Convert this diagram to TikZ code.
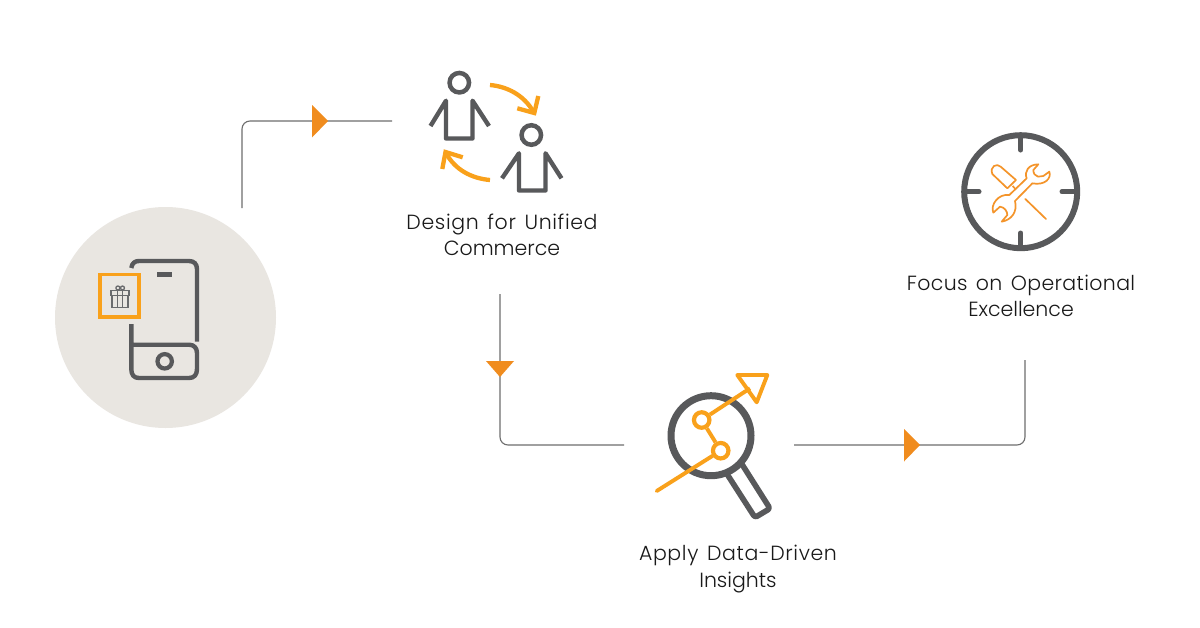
\documentclass[tikz,border=0pt]{standalone}
\usepackage{fontspec}
\setmainfont[WordSpace=1.4]{Poppins Light}
\newcommand{\widerline}[2]{{\addfontfeature{LetterSpace=#1}#2}}
\definecolor{ink}{HTML}{58595B}
\definecolor{amber}{HTML}{F9A11B}
\definecolor{tool}{HTML}{F4942A}
\definecolor{tipc}{HTML}{F08C1E}
\definecolor{disc}{HTML}{E9E6E1}
\definecolor{wire}{HTML}{6E6E6E}
\definecolor{gift}{HTML}{6A6B6D}
\tikzset{
  x=1pt,y=-1pt,
  wirel/.style={draw=wire,line width=1.1pt,rounded corners=8pt},
  tipm/.style={fill=tipc,draw=none},
  inkl/.style={draw=ink,line width=4.4pt,line join=round},
  amb/.style={draw=amber,line width=4.3pt,line join=miter},
  headn/.style={circle,draw=ink,line width=4.5pt,minimum size=19.5pt,inner sep=0pt},
  dotn/.style={circle,draw=amber,line width=4.2pt,minimum size=15.5pt,inner sep=0pt},
  captionn/.style={font=\fontsize{20.5}{26.5}\selectfont,align=center,text=black!90,inner sep=0pt}
}
\begin{document}
\begin{tikzpicture}
\useasboundingbox (0,0) rectangle (1200,627);
\fill[white] (0,0) rectangle (1200,627);
% connectors
\coordinate (a0) at (242,208);
\coordinate (a1) at (392,121);
\coordinate (b0) at (500,294);
\coordinate (b1) at (624,445);
\coordinate (c0) at (794,445);
\coordinate (c1) at (1025,360);
\draw[wirel] (a0) |- (a1);
\draw[wirel] (b0) |- (b1);
\draw[wirel] (c0) -| (c1);
\fill[tipm] (312,105) -- (328,121) -- (312,137.5) -- cycle;
\fill[tipm] (486,361) -- (514,361) -- (500,377) -- cycle;
\fill[tipm] (904,429) -- (920,445) -- (904,461.5) -- cycle;
% disc
\node[circle,fill=disc,minimum size=221pt,inner sep=0pt] (disc) at (165.5,317.5) {};
% phone
\draw[inkl,line cap=butt] (131.3,268) .. controls (132,263) and (135,261) .. (139,261) -- (189,261) .. controls (194,261) and (197,264) .. (197,269) -- (197,341.7);
\draw[inkl,line cap=butt] (131.3,324) -- (131.3,369) .. controls (131.3,375) and (134,378) .. (139,378) -- (189,378) .. controls (194,378) and (197,375) .. (197,369) -- (197,353) .. controls (197,348) and (194,344.7) .. (189,344.7) -- (131.3,344.7);
\draw[inkl] (157.3,274.5) -- (171.7,274.5);
\node[circle,draw=ink,line width=4.2pt,minimum size=14.4pt,inner sep=0pt] (homebtn) at (164.7,361.3) {};
% gift box
\node[draw=amber,line width=3.7pt,minimum width=38.6pt,minimum height=42.6pt,inner sep=0pt] (giftframe) at (119.5,295.8) {};
\begin{scope}[draw=gift,line width=1.3pt]
\draw (111.9,295.5) rectangle (128.1,307.2);
\draw (110.9,290.7) rectangle (129.1,295.5);
\draw (117.7,290.7) -- (117.7,307.2) (122.8,290.7) -- (122.8,307.2);
\draw (117.9,288) circle (2pt) (122.5,288) circle (2pt);
\end{scope}
% person 1
\node[headn] (head1) at (459.3,82.7) {};
\draw[inkl,line cap=butt] (430.5,126) -- (446,100.7) -- (446,138.5) -- (472.5,138.5) -- (472.5,100.7) -- (489,126);
% person 2
\node[headn] (head2) at (531.3,135) {};
\draw[inkl,line cap=butt] (502,178.3) -- (519,153.3) -- (519,190.5) -- (545.5,190.5) -- (545.5,153.3) -- (561.5,178.3);
% cycle arrows
\draw[amb] (490,85) .. controls (507,86.5) and (524,95) .. (533.5,112);
\draw[amb] (538.3,96) -- (534.3,113) -- (517.3,108.3);
\draw[amb] (490,180) .. controls (472,178.5) and (455,170) .. (446,153);
\draw[amb] (442.3,169) -- (445.5,152) -- (462.7,157.3);
% magnifier
\node[circle,draw=ink,line width=7pt,minimum size=80pt,inner sep=0pt] (lens) at (711,435.7) {};
\draw[inkl,line width=5.6pt,rounded corners=2.5pt] (727,474) -- (755,517.5) -- (770,508.5) -- (741.5,463.5);
% chart line
\node[dotn] (p1) at (701.7,420) {};
\node[dotn] (p2) at (720.7,450.7) {};
\coordinate (chartstart) at (656.7,491);
\coordinate (charttip) at (750,388.3);
\draw[amber,line width=3.9pt,line cap=round] (chartstart) -- (p2);
\draw[amber,line width=3.9pt] (p2) -- (p1);
\draw[amber,line width=3.9pt] (p1) -- (charttip);
\draw[amb,line width=3.9pt,line join=round] (737.3,375) -- (767.3,375) -- (756.7,402.3) -- cycle;
% target
\node[circle,draw=ink,line width=6pt,minimum size=113pt,inner sep=0pt] (dial) at (1020.7,191.7) {};
\draw[draw=ink,line width=5pt,line cap=round] (1020.7,137) -- (1020.7,150) (1020.7,233) -- (1020.7,246) (966,191.7) -- (979,191.7) (1062,191.7) -- (1075,191.7);
% tools, in the coordinates of the crop
\begin{scope}[shift={(950,125)},scale=1/3,draw=tool,line width=1.7pt,line join=round]
\draw[line cap=round] (198,165) -- (152,125) .. controls (140,113) and (118,125) .. (127,147) -- (172,190) -- (198,165);
\draw (188,183) -- (197,193);
\draw[line cap=round] (226,222) -- (288,282);
\draw (178,210) -- (230,160) .. controls (222,140) and (235,118) .. (265,118)
  -- (250,135) .. controls (250,145) and (255,153) .. (264,155) -- (280,153)
  -- (298,140) .. controls (305,160) and (285,182) .. (247,175)
  -- (195,228) .. controls (203,260) and (185,285) .. (155,290)
  -- (172,270) .. controls (172,260) and (165,247) .. (150,245)
  -- (130,263) .. controls (120,240) and (145,205) .. (178,210) -- cycle;
\end{scope}
% captions
\node[captionn] (t1) at (502,235) {\widerline{3}{Design for Unified}\\Commerce};
\node[captionn] (t2) at (1021,296) {\widerline{1.8}{Focus on Operational}\\Excellence};
\node[captionn] (t3) at (738,569) {\widerline{3}{Apply Data-Driven}\\Insights};
\end{tikzpicture}
\end{document}
